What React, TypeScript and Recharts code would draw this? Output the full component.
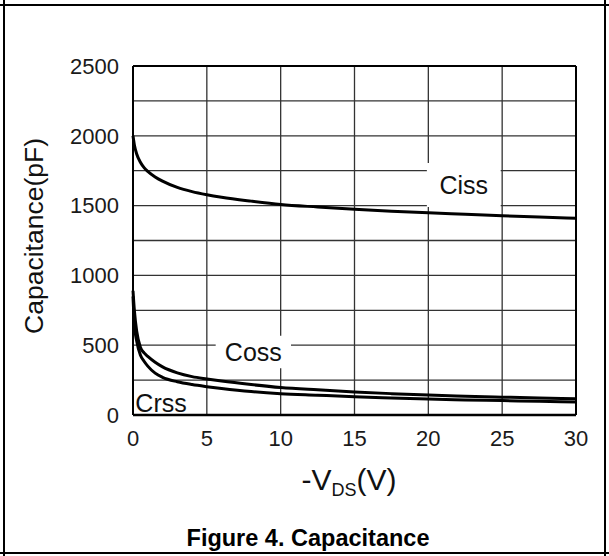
import React from 'react';
import { LineChart, Line, XAxis, YAxis, CartesianGrid, ReferenceArea, ReferenceLine, Label } from 'recharts';

const vds = [0, 0.1, 0.25, 0.5, 0.75, 1, 1.5, 2, 3, 4, 5, 6, 8, 10, 12.5, 15, 17.5, 20, 22.5, 25, 27.5, 30];
const ciss = [2000, 1930, 1870, 1810, 1772, 1745, 1705, 1675, 1630, 1600, 1578, 1560, 1532, 1508, 1490, 1474, 1460, 1448, 1438, 1428, 1418, 1410];
const coss = [890, 740, 600, 485, 445, 420, 378, 345, 302, 275, 258, 243, 218, 197, 180, 165, 153, 143, 135, 128, 122, 117];
const crss = [850, 640, 530, 430, 385, 350, 300, 270, 238, 218, 203, 190, 168, 153, 142, 131, 122, 114, 108, 103, 98, 94];

const xTicks = [0, 5, 10, 15, 20, 25, 30];
const yTicks = [0, 250, 500, 750, 1000, 1250, 1500, 1750, 2000, 2250, 2500];
const yLabelTicks = [0, 500, 1000, 1500, 2000, 2500];

const data = vds.map((v, i) => ({ v, ciss: ciss[i], coss: coss[i], crss: crss[i] }));

const FONT = '"Liberation Sans", Arial, Helvetica, sans-serif';

const renderXLabel = () => (
  <g fontFamily={FONT}>
    <text x={349} y={490} textAnchor="middle" fontSize={30} fill="#111">
      <tspan>-V</tspan>
      <tspan fontSize={18} dy={6}>DS</tspan>
      <tspan fontSize={30} dy={-6}>(V)</tspan>
    </text>
    <text x={308} y={546} textAnchor="middle" fontSize={23.5} fontWeight="bold" fill="#000">
      Figure 4. Capacitance
    </text>
  </g>
);

const renderYLabel = () => (
  <text
    x={0}
    y={0}
    transform="translate(43, 236) rotate(-90)"
    textAnchor="middle"
    fontSize={26.5}
    fontFamily={FONT}
    fill="#111"
  >
    Capacitance(pF)
  </text>
);

export default function App() {
  return (
    <div style={{ position: 'absolute', left: 0, top: 0, width: 609, height: 556, background: '#fff' }}>
      <LineChart
        width={609}
        height={556}
        data={data}
        margin={{ top: 66, right: 33, left: 0, bottom: 111 }}
        style={{ fontFamily: FONT }}
      >
        <CartesianGrid stroke="#333" strokeWidth={1.3} vertical horizontal />
        <XAxis
          dataKey="v"
          type="number"
          domain={[0, 30]}
          ticks={xTicks}
          interval={0}
          height={30}
          tickLine={false}
          tickSize={0}
          tickMargin={15}
          axisLine={{ stroke: '#000', strokeWidth: 2.5 }}
          tick={{ fontSize: 22, fill: '#1a1a1a', fontFamily: FONT }}
        >
          <Label content={renderXLabel} />
        </XAxis>
        <YAxis
          type="number"
          domain={[0, 2500]}
          ticks={yTicks}
          interval={0}
          width={133}
          tickLine={false}
          tickSize={0}
          tickMargin={14}
          axisLine={{ stroke: '#000', strokeWidth: 2 }}
          tickFormatter={(t: number) => (yLabelTicks.includes(t) ? String(t) : '')}
          tick={{ fontSize: 22, fill: '#1a1a1a', fontFamily: FONT }}
        >
          <Label content={renderYLabel} />
        </YAxis>
        <ReferenceLine y={2500} stroke="#000" strokeWidth={2} />
        <ReferenceLine x={30} stroke="#000" strokeWidth={2} />
        <ReferenceArea
          x1={19.9}
          x2={24.9}
          y1={1490}
          y2={1805}
          fill="#fff"
          fillOpacity={1}
          stroke="none"
          label={{ value: 'Ciss', position: 'center', fontSize: 25, fill: '#111', fontFamily: FONT }}
        />
        <ReferenceArea
          x1={5.6}
          x2={10.7}
          y1={335}
          y2={567}
          fill="#fff"
          fillOpacity={1}
          stroke="none"
          label={{ value: 'Coss', position: 'center', fontSize: 25, fill: '#111', fontFamily: FONT }}
        />
        <ReferenceArea
          x1={0.1}
          x2={3.7}
          y1={10}
          y2={165}
          fill="#fff"
          fillOpacity={1}
          stroke="none"
          label={{ value: 'Crss', position: 'center', fontSize: 25, fill: '#111', fontFamily: FONT }}
        />
        <Line type="monotone" dataKey="ciss" stroke="#000" strokeWidth={3} dot={false} isAnimationActive={false} />
        <Line type="monotone" dataKey="coss" stroke="#000" strokeWidth={3} dot={false} isAnimationActive={false} />
        <Line type="monotone" dataKey="crss" stroke="#000" strokeWidth={3} dot={false} isAnimationActive={false} />
      </LineChart>
      <svg
        width={609}
        height={556}
        style={{ position: 'absolute', left: 0, top: 0, pointerEvents: 'none' }}
      >
        <line x1={0} y1={5} x2={609} y2={5} stroke="#000" strokeWidth={2} />
        <line x1={4} y1={0} x2={4} y2={556} stroke="#000" strokeWidth={2} />
        <line x1={605} y1={0} x2={605} y2={556} stroke="#000" strokeWidth={2} />
        <line x1={0} y1={553} x2={609} y2={553} stroke="#000" strokeWidth={2} />
      </svg>
    </div>
  );
}
